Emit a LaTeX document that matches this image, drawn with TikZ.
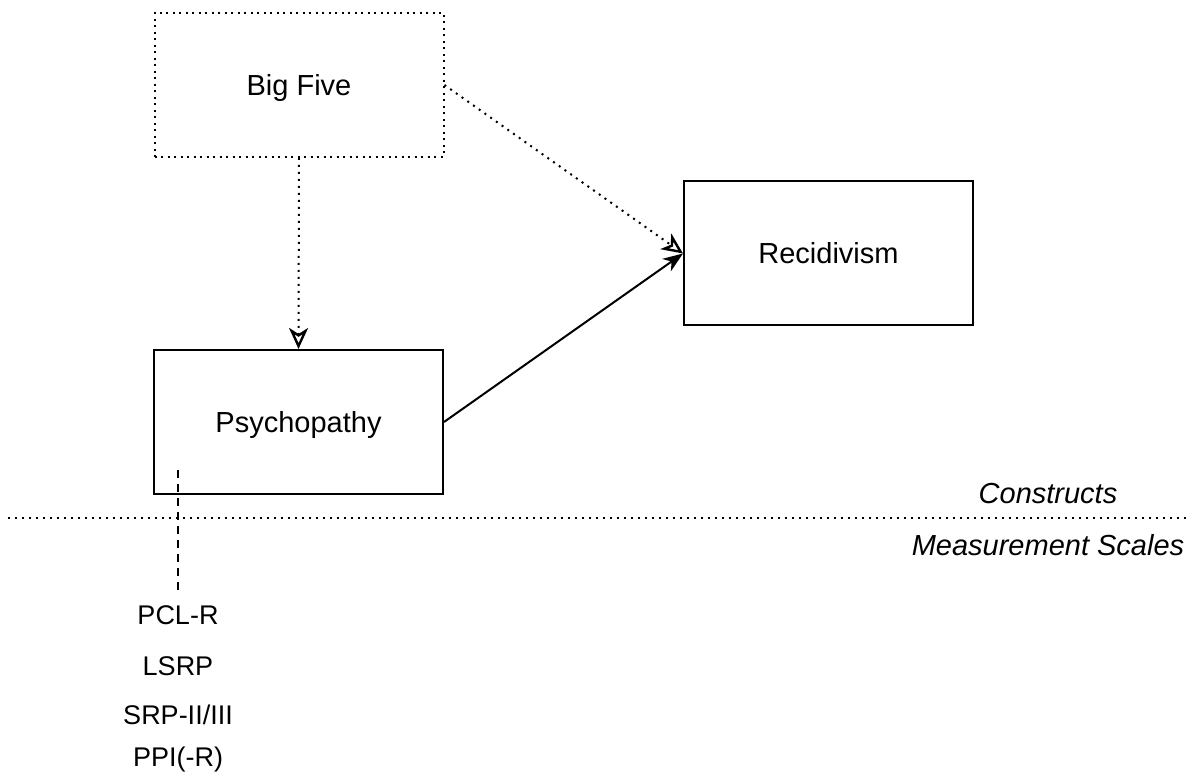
\documentclass[tikz,border=0pt]{standalone}
\usepackage{fontspec}
\setmainfont{Liberation Sans}
\usetikzlibrary{arrows.meta}
\begin{document}
\begin{tikzpicture}[x=1pt,y=-1pt,
  every node/.style={font=\fontsize{29}{34}\selectfont},
  solidbox/.style={draw,line width=2pt,minimum width=289pt,minimum height=144pt,inner sep=0pt,text height=21pt,text depth=0pt},
  dotbox/.style={solidbox,dash pattern=on 2pt off 4.5pt},
  dotline/.style={line width=2pt,dash pattern=on 2pt off 5pt},
  dashline/.style={line width=2pt,dash pattern=on 8pt off 6pt},
  openhead/.style={-{Stealth[open,length=21pt,width=19pt,inset=6pt,line width=2.4pt]}},
  fullhead/.style={-{Stealth[length=20pt,width=15pt,inset=6pt]}},
  lbl/.style={inner sep=0pt},
  scalelbl/.style={inner sep=0pt,font=\fontsize{27}{32}\selectfont}]
\useasboundingbox (0,0) rectangle (1192,775);
\node[dotbox] (bf) at (299,85) {Big Five};
\node[solidbox] (rec) at (828.5,253.5) {Recidivism};
\node[solidbox] (psy) at (298.5,422) {Psychopathy};
\draw[dotline,openhead] (bf.south) -- (psy.north);
\draw[dotline,openhead] (bf.east) -- (rec.west);
\draw[line width=2pt,fullhead] (psy.east) -- (rec.west);
\coordinate (l1) at (8,518);
\coordinate (l2) at (1190,518);
\draw[dotline] (l1) -- (l2);
\node[lbl,font=\fontsize{29}{34}\selectfont\itshape] (con) at (1048,494) {Constructs};
\node[lbl,font=\fontsize{29}{34}\selectfont\itshape] (ms) at (1048,545) {Measurement Scales};
\node[scalelbl] (pcl) at (178,615) {PCL-R};
\node[scalelbl] (lsrp) at (178,666) {LSRP};
\node[scalelbl] (srp) at (178,715) {SRP-II/III};
\node[scalelbl] (ppi) at (178,760) {PPI(-R)};
\coordinate (d1) at (178,470);
\coordinate (d2) at (178,590);
\draw[dashline] (d1) -- (d2);
\end{tikzpicture}
\end{document}
